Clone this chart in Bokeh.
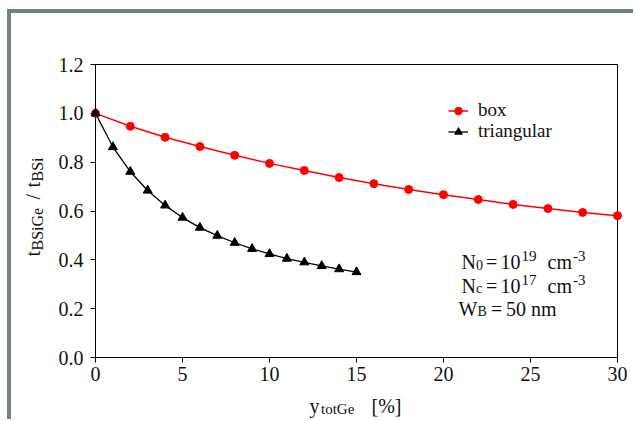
import math
from bokeh.plotting import figure
from bokeh.models import Range1d, FixedTicker, Legend, LegendItem, Div
from bokeh.core.properties import value
from bokeh.layouts import column, row
from bokeh.embed import file_html
from bokeh.resources import INLINE

# ---- data ----
box_x = [0, 2, 4, 6, 8, 10, 12, 14, 16, 18, 20, 22, 24, 26, 28, 30]
box_y = [1.000, 0.947, 0.902, 0.864, 0.828, 0.795, 0.766, 0.737,
         0.712, 0.688, 0.667, 0.647, 0.627, 0.610, 0.594, 0.581]
tri_x = [0, 1, 2, 3, 4, 5, 6, 7, 8, 9, 10, 11, 12, 13, 14, 15]
tri_y = [1.000, 0.862, 0.761, 0.684, 0.623, 0.573, 0.532, 0.499,
         0.470, 0.445, 0.424, 0.405, 0.390, 0.375, 0.362, 0.350]
x_ticks = [0, 5, 10, 15, 20, 25, 30]
y_ticks = [0.0, 0.2, 0.4, 0.6, 0.8, 1.0, 1.2]
y_tick_labels = ["0.0", "0.2", "0.4", "0.6", "0.8", "1.0", "1.2"]
series_names = ["box", "triangular"]

FONT = "Liberation Serif"
FRAME_COL = "#6f837d"

p = figure(width=622, height=406, output_backend="svg", toolbar_location=None,
           x_range=Range1d(0, 30), y_range=Range1d(0, 1.2),
           min_border_left=84, min_border_right=16,
           min_border_top=51, min_border_bottom=62)
p.grid.visible = False
p.outline_line_color = "black"
p.outline_line_width = 1
p.background_fill_color = "white"
p.border_fill_color = "white"

for ax in (p.xaxis[0], p.yaxis[0]):
    ax.major_label_text_font = FONT
    ax.major_label_text_font_size = "20px"
    ax.major_label_text_color = "#111111"
    ax.major_tick_out = 5
    ax.major_tick_in = 0
    ax.minor_tick_out = 0
    ax.minor_tick_in = 0
    ax.axis_line_color = "black"
    ax.major_tick_line_color = "black"
    ax.axis_label = None

p.xaxis[0].ticker = FixedTicker(ticks=x_ticks)
p.yaxis[0].ticker = FixedTicker(ticks=y_ticks)
p.yaxis[0].major_label_overrides = {t: l for t, l in zip(y_ticks, y_tick_labels)}
p.yaxis[0].major_label_standoff = 7
p.xaxis[0].major_label_standoff = 4

r_box_line = p.line(box_x, box_y, line_color="#ff0000", line_width=1.5)
r_box_pts = p.scatter(box_x, box_y, marker="circle", size=8,
                      fill_color="#ff0000", line_color="#ff0000")
r_tri_line = p.line(tri_x, tri_y, line_color="black", line_width=1.3)
r_tri_pts = p.scatter(tri_x, tri_y, marker="triangle", size=9,
                      fill_color="black", line_color="black")
for r in (r_box_line, r_box_pts, r_tri_line, r_tri_pts):
    r.level = "overlay"

def make_legend(label, renderers, loc):
    return Legend(items=[LegendItem(label=label, renderers=renderers)],
                  location=loc, border_line_color=None,
                  background_fill_alpha=0, padding=0, margin=0, spacing=0,
                  glyph_width=20, glyph_height=19, label_height=19,
                  label_standoff=10, label_text_font=FONT,
                  label_text_font_size="19px", label_text_color="#111111")

# legend rows centred near page y 110 and 131 (frame bottom at 357)
p.add_layout(make_legend(series_names[0], [r_box_line, r_box_pts], (353, 236)))
p.add_layout(make_legend(series_names[1], [r_tri_line, r_tri_pts], (353, 215)))

# text helper: anchored at the plot origin, shifted by pixel offsets
FL, FB = 95, 357
SHIFT = 7  # compensates the renderer's baseline placement

def txt(s, px, py, size, angle=0.0):
    if angle:
        px -= SHIFT
    else:
        py -= SHIFT
    p.text(x=[0], y=[0], text=[s], x_offset=px - FL, y_offset=py - FB,
           angle=angle, text_font=value(FONT), text_font_size=f"{size}px",
           text_color="#111111", text_baseline="alphabetic",
           text_align="left", level="overlay")

# x axis title: y_totGe [%]
txt("y", 309, 412, 20)
txt("totGe", 320.5, 415, 15)
txt("[%]", 371, 412, 20)

# y axis title: t_BSiGe / t_BSi (rotated)
A = math.pi / 2
txt("t", 39, 256, 20, A)
txt("BSiGe", 43.5, 250, 16, A)
txt("/", 39, 199, 20, A)
txt("t", 39, 187, 20, A)
txt("BSi", 43.5, 181, 16, A)

# parameter annotations
txt("N", 461, 268, 20)
txt("0", 475.5, 271, 14)
txt("=", 485.5, 268, 20)
txt("10", 500, 268, 20)
txt("19", 521, 262, 15)
txt("cm", 547, 268, 20)
txt("-3", 572.5, 262, 15)

txt("N", 461, 292, 20)
txt("c", 475.5, 295, 14)
txt("=", 485.5, 292, 20)
txt("10", 500, 292, 20)
txt("17", 521, 286, 15)
txt("cm", 547, 292, 20)
txt("-3", 572.5, 286, 15)

txt("W", 458, 315, 20)
txt("B", 477, 318, 14)
txt("=", 490.5, 315, 20)
txt("50 nm", 505.5, 315, 20)

top_bar = Div(width=626, height=4, margin=0, styles={"background-color": FRAME_COL})
left_bar = Div(width=4, height=406, margin=0, styles={"background-color": FRAME_COL})
layout = column(top_bar, row(left_bar, p, spacing=0), spacing=0, margin=(9, 0, 0, 7))

open("out.html", "w").write(file_html(layout, INLINE))
